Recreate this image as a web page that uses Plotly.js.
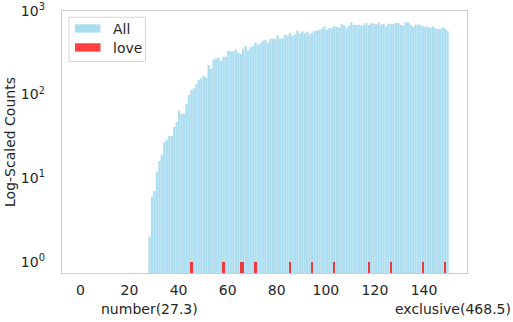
<!DOCTYPE html>
<html>
<head>
<meta charset="utf-8">
<script src="https://cdn.plot.ly/plotly-3.0.1.min.js"></script>
<style>html,body{margin:0;padding:0;background:#fff;}#chart{width:513px;height:322px;}</style>
</head>
<body>
<div id="chart"></div>
<script>
// Histogram bins (width ~1) starting at 27.7
const binStart = 27.7;
const binWidth = 1.003;
const allCounts = [
  2,6,7,12,16,19,27,29,32,32,
  41,47,64,59,59,77,99,114,119,133,
  150,157,167,160,225,205,263,270,278,253,
  286,284,334,330,330,347,320,305,350,380,
  340,367,384,421,394,410,440,453,417,465,
  465,465,511,470,470,525,505,545,505,525,
  586,540,570,540,570,530,550,575,590,595,
  612,658,598,628,628,655,650,630,698,673,
  630,670,731,680,680,685,670,685,718,680,
  718,705,700,725,685,700,655,710,700,700,
  718,718,685,670,731,731,685,650,685,690,
  685,655,650,650,630,655,625,608,608,640,
  620,575
];
const loveBins = [17,30,37,38,43,57,66,75,89,98,111,120];
const loveCounts = [1,1,1,1,1,1,1,1,1,1,1,1];
const xTicks = [0,20,40,60,80,100,120,140];
const yTickVals = [1,10,100,1000];
const yTickText = ['10<sup>0</sup>','10<sup>1</sup>','10<sup>2</sup>','10<sup>3</sup>'];
const seriesNames = ['All', 'love'];
const leftLabel = 'number(27.3)';
const rightLabel = 'exclusive(468.5)';

const allX = allCounts.map((_, k) => binStart + (k + 0.5) * binWidth);
const loveX = loveBins.map(k => binStart + (k + 0.5) * binWidth);

const font = 'DejaVu Sans, sans-serif';
const fs = 14;
const tc = '#262626';
const blue = 'rgba(135,206,235,0.7)';
const red = 'rgba(255,0,0,0.75)';
const colors = [blue, red];

// plot-area geometry (pixels) for placing the legend box
const M = {l:62, r:46, t:11, b:48.7};
const W = 513, H = 322;
const pw = W - M.l - M.r, ph = H - M.t - M.b;
const px = v => (v - M.l) / pw;
const py = v => (H - M.b - v) / ph;

const traces = [
  {type:'bar', name:seriesNames[0], x: allX, y: allCounts, width: binWidth,
   marker:{color:blue, line:{width:0.4, color:'rgba(255,255,255,0.35)'}}},
  {type:'bar', name:seriesNames[1], x: loveX, y: loveCounts, width: binWidth*0.85,
   marker:{color:red, line:{width:0}}}
];

const shapes = [
  {type:'rect', xref:'paper', yref:'paper', x0:px(69), x1:px(145.5), y0:py(61.5), y1:py(17.3),
   line:{color:'#d6d6d6', width:1}, fillcolor:'rgba(255,255,255,0.8)', layer:'above'}
];
const annotations = [];
const rowY = [28.5, 47.5];
seriesNames.forEach((n, i) => {
  shapes.push({type:'rect', xref:'paper', yref:'paper', x0:px(75), x1:px(100.5),
    y0:py(rowY[i] + 4.2), y1:py(rowY[i] - 4.2), line:{width:0}, fillcolor:colors[i], layer:'above'});
  annotations.push({text:n, xref:'paper', yref:'paper', x:px(111), y:py(rowY[i] + 0.5),
    xanchor:'left', yanchor:'middle', showarrow:false, font:{family:font, size:fs, color:tc}});
});
annotations.push(
  {text:leftLabel, xref:'x', yref:'paper', x:28.3, y:-0.138, xanchor:'center', yanchor:'middle',
   showarrow:false, font:{family:font, size:fs, color:tc}},
  {text:rightLabel, xref:'paper', yref:'paper', x:1.113, y:-0.138, xanchor:'right', yanchor:'middle',
   showarrow:false, font:{family:font, size:fs, color:tc}}
);

const layout = {
  width:W, height:H,
  margin:{l:M.l, r:M.r, t:M.t, b:M.b, pad:0},
  paper_bgcolor:'#fff', plot_bgcolor:'#fff',
  barmode:'overlay', bargap:0,
  font:{family:font, size:fs, color:tc},
  showlegend:false,
  xaxis:{range:[-7.5,157.5], tickvals:xTicks, ticks:'outside', ticklen:4,
    tickcolor:'rgba(0,0,0,0)', showgrid:false, zeroline:false,
    showline:true, linecolor:'#cccccc', linewidth:1.3, mirror:true,
    tickfont:{family:font, size:fs, color:tc}},
  yaxis:{type:'log', range:[-0.136,3.0], tickvals:yTickVals, ticktext:yTickText,
    ticks:'outside', ticklen:13, tickcolor:'rgba(0,0,0,0)', showgrid:false, zeroline:false,
    showline:true, linecolor:'#cccccc', linewidth:1.3, mirror:true,
    tickfont:{family:font, size:fs, color:tc},
    title:{text:'Log-Scaled Counts', font:{family:font, size:fs, color:tc}, standoff:2}},
  shapes: shapes,
  annotations: annotations
};
Plotly.newPlot('chart', traces, layout, {displayModeBar:false, staticPlot:true});
</script>
</body>
</html>
